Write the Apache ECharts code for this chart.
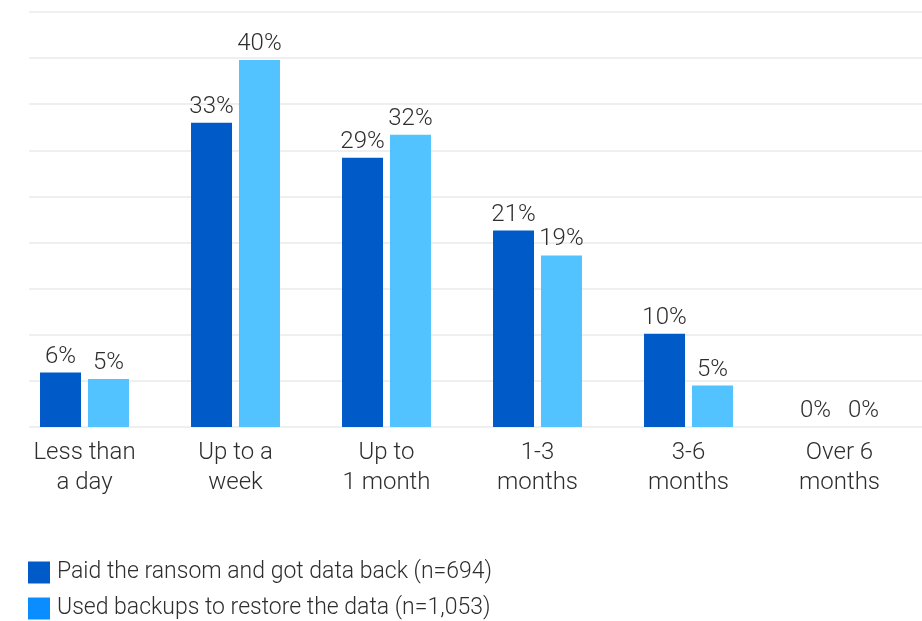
<!DOCTYPE html>
<html>
<head>
<meta charset="utf-8">
<script src="https://cdn.jsdelivr.net/npm/echarts@6/dist/echarts.min.js"></script>
<style>
  html, body { margin: 0; padding: 0; background: #fff; }
  #main { width: 922px; height: 621px; }
</style>
</head>
<body>
<div id="main"></div>
<script>
var categories = ['Less than\na day', 'Up to a\nweek', 'Up to\n1 month', '1-3\nmonths', '3-6\nmonths', 'Over 6\nmonths'];
var paidRansom = [5.9, 33.0, 29.2, 21.3, 10.1, 0];
var usedBackups = [5.2, 39.8, 31.7, 18.6, 4.5, 0];
var seriesNames = ['Paid the ransom and got data back (n=694)', 'Used backups to restore the data (n=1,053)'];

var FONT = 'Roboto';
var TEXT = '#2e2e2e';
var DARK = '#005bc8';
var LIGHT = '#52c3ff';
var LEGEND_LIGHT = '#0a8eff'; // legend square is a stronger blue than the bars

var myChart = echarts.init(document.getElementById('main'));

function pct(p) {
    return Math.round(p.value) + '%';
}

myChart.setOption({
    animation: false,
    textStyle: { fontFamily: FONT },
    legend: {
        orient: 'vertical',
        left: 28,
        top: 561,
        padding: 0,
        itemWidth: 22,
        itemHeight: 22,
        itemGap: 13,
        icon: 'rect',
        textStyle: { fontSize: 23, color: TEXT, fontFamily: FONT, fontWeight: 300, padding: [0, 0, 0, 2] },
        data: [
            { name: seriesNames[0], itemStyle: { color: DARK } },
            { name: seriesNames[1], itemStyle: { color: LEGEND_LIGHT } }
        ]
    },
    // grid 0 only draws the light horizontal lines, grid 1 holds the bars
    grid: [
        { left: 29, right: 0, top: 12, bottom: 194 },
        { left: 9, right: 7, top: 12, bottom: 194 }
    ],
    xAxis: [
        { type: 'category', gridIndex: 0, data: categories, show: false },
        {
            type: 'category',
            gridIndex: 1,
            data: categories,
            axisLine: { show: false },
            axisTick: { show: false },
            axisLabel: { fontSize: 24, color: TEXT, fontFamily: FONT, fontWeight: 300, lineHeight: 30, margin: 11 }
        }
    ],
    yAxis: [
        {
            type: 'value', gridIndex: 0, min: 0, max: 45, interval: 5,
            axisLabel: { show: false }, axisLine: { show: false }, axisTick: { show: false },
            splitLine: { lineStyle: { color: '#efefef', width: 2 } }
        },
        {
            type: 'value', gridIndex: 1, min: 0, max: 45, interval: 5,
            show: false, splitLine: { show: false }
        }
    ],
    series: [
        {
            name: seriesNames[0],
            type: 'bar',
            xAxisIndex: 1,
            yAxisIndex: 1,
            data: paidRansom,
            barWidth: 41,
            barGap: '17%',
            itemStyle: { color: DARK },
            label: { show: true, position: 'top', distance: 4, fontSize: 24, color: TEXT, fontFamily: FONT, fontWeight: 300, formatter: pct }
        },
        {
            name: seriesNames[1],
            type: 'bar',
            xAxisIndex: 1,
            yAxisIndex: 1,
            data: usedBackups,
            barWidth: 41,
            itemStyle: { color: LIGHT },
            label: { show: true, position: 'top', distance: 4, fontSize: 24, color: TEXT, fontFamily: FONT, fontWeight: 300, formatter: pct }
        }
    ]
});
</script>
</body>
</html>
